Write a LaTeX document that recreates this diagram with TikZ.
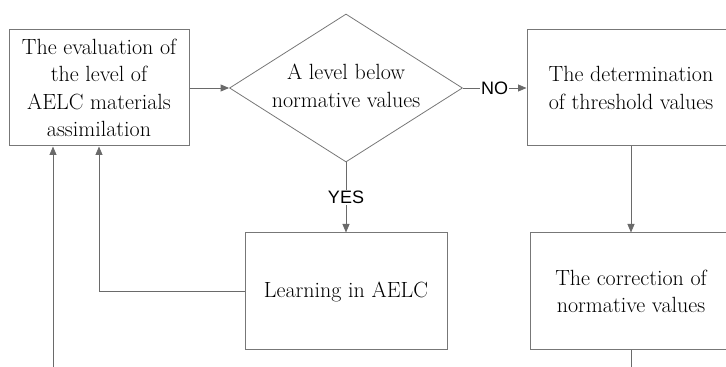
\documentclass[tikz,border=0pt]{standalone}
\usepackage{fontspec}
\newfontfamily\labelfont{Liberation Sans}
\usetikzlibrary{shapes.geometric,arrows.meta}
\definecolor{linegray}{HTML}{6A6A6A}
\definecolor{boxgray}{HTML}{777777}
\begin{document}
\begin{tikzpicture}[x=1pt,y=1pt,
  boxnode/.style={draw=boxgray,line width=1pt,rectangle,align=center,inner sep=0pt,
    font=\fontsize{22}{27.5}\selectfont},
  decision/.style={draw=boxgray,line width=0.8pt,diamond,align=center,inner sep=0pt,
    font=\fontsize{22}{27.5}\selectfont},
  conn/.style={draw=linegray,line width=0.9pt},
  arr/.style={conn,-{Triangle[length=8.5pt,width=7pt]}},
  lbl/.style={fill=white,inner sep=1pt,font=\labelfont\fontsize{18}{20}\selectfont}]
\useasboundingbox (0,0) rectangle (726,367);
\clip (0,0) rectangle (726,367);
\node[boxnode,minimum width=180pt,minimum height=116pt] (eval) at (99,279)
  {The evaluation of\\the level of\\AELC materials\\assimilation};
\node[decision,minimum width=233pt,minimum height=148pt] (dec) at (346,279) {};
\node[font=\fontsize{22}{27.5}\selectfont,align=center] (dectext) at (346,281)
  {A level below\\normative values};
\node[boxnode,minimum width=208pt,minimum height=116pt] (thresh) at (631,279)
  {The determination\\of threshold values};
\node[boxnode,minimum width=202pt,minimum height=117pt] (corr) at (631,75.5)
  {The correction of\\normative values};
\node[boxnode,minimum width=202pt,minimum height=117pt] (learn) at (346,75.5)
  {Learning in AELC};
\coordinate (corrend) at (631,-2);
\coordinate (leftin) at (53,-2);
\coordinate (bend) at (99,75.5);
\draw[arr] (eval.east) -- (dec.west);
\draw[arr] (dec.east) -- node[lbl] {NO} (thresh.west);
\draw[arr] (dec.south) -- node[lbl] {YES} (learn.north);
\draw[arr] (thresh.south) -- (corr.north);
\draw[conn] (corr.south) -- (corrend);
\draw[arr] (learn.west) -- (bend) -- (eval.south);
\draw[arr] (leftin) -- (leftin |- eval.south);
\end{tikzpicture}
\end{document}
